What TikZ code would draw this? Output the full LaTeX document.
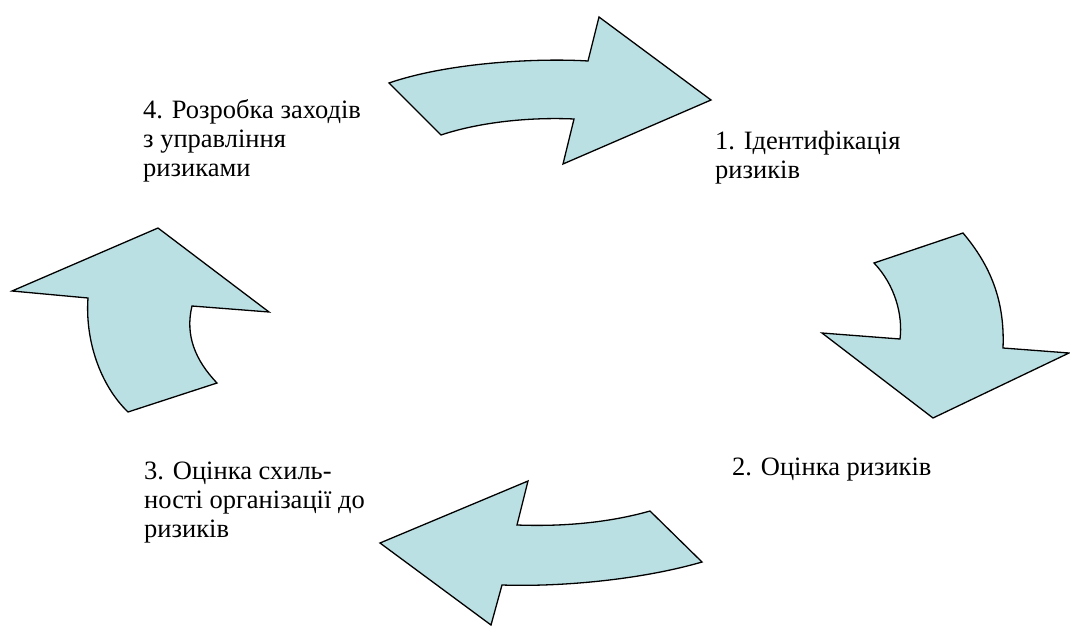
\documentclass[tikz,border=0pt]{standalone}
\usepackage{fontspec}
\setmainfont{LiberationSerif-Regular.ttf}
\definecolor{arrowfill}{RGB}{187,224,227}
\begin{document}
\begin{tikzpicture}[x=1pt, y=-1pt]
  % Define styles
  \tikzstyle{cyclearrow} = [draw=black, line width=1.3pt, fill=arrowfill, line join=miter]
  \tikzstyle{stagetext} = [anchor=base west, inner sep=0pt, align=left, font=\fontsize{26.5}{29}\selectfont]

  \useasboundingbox (0,0) rectangle (1070,626);

  % Place stage texts (anchored at the baseline of the last line)
  \node [stagetext] (ident) at (715,178) {1. Ідентифікація\\ризиків};
  \node [stagetext] (assess) at (732,475) {2. Оцінка ризиків};
  \node [stagetext] (appetite) at (144,537) {3. Оцінка схиль-\\ності організації до\\ризиків};
  \node [stagetext] (measures) at (143,176) {4. Розробка заходів\\з управління\\ризиками};

  % Draw arrows
  \path [cyclearrow] (389,83) .. controls (450,62) and (540,58) .. (588,61)
    -- (599,17) -- (711,100) -- (563,164) -- (574,119)
    .. controls (530,117) and (480,122) .. (441,135) -- cycle;
  \path [cyclearrow] (963,233) -- (874,263)
    .. controls (895,285) and (903,315) .. (900,339)
    -- (822,333) -- (933,418) -- (1069,353) -- (1003,348)
    .. controls (1005,300) and (990,265) .. cycle;
  \path [cyclearrow] (702,562) .. controls (640,580) and (560,587) .. (502,585)
    -- (491,625) -- (380,543) -- (528,481) -- (517,525)
    .. controls (570,527) and (615,521) .. (650,511) -- cycle;
  \path [cyclearrow] (128,412) .. controls (100,385) and (85,340) .. (88,298)
    -- (12,291) -- (158,228) -- (269,312) -- (192,306)
    .. controls (185,335) and (195,360) .. (217,383) -- cycle;
\end{tikzpicture}
\end{document}
